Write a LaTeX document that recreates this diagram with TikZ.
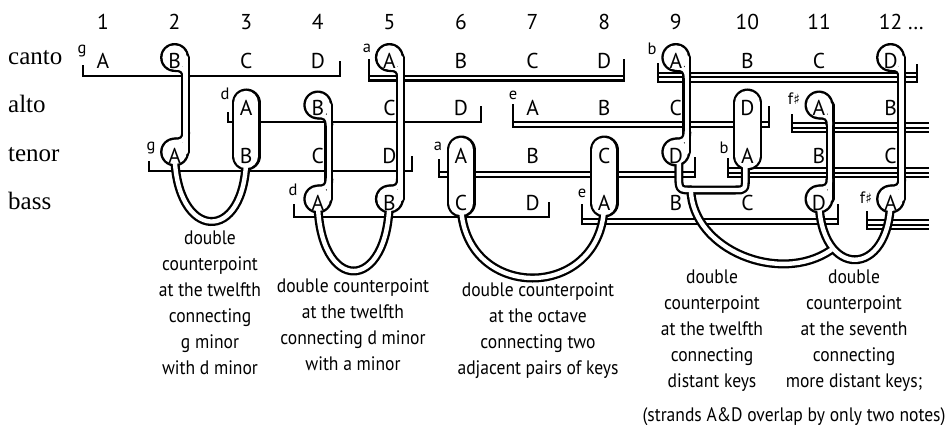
\documentclass[tikz,border=0pt]{standalone}
\usepackage{fontspec}
\setmainfont{Liberation Serif}
\newfontfamily\notefont{PT Sans}
\newfontfamily\capfont[FakeStretch=0.9]{PT Sans}
\newfontfamily\symfont{DejaVu Sans}
\usetikzlibrary{calc}

% one bracket of a voice: x from, x to, first line y, lines, left tick top, right tick top
\newcommand{\keystrand}[6]{%
  \foreach \i in {1,...,#4}
    \draw[staff] (#1,{#3+4.6*(\i-1)}) -- (#2,{#3+4.6*(\i-1)});
  \draw[staff] (#1,#5) -- (#1,{#3+4.6*(#4-1)});
  \ifx&#6&\else\draw[staff] (#2,#6) -- (#2,{#3+4.6*(#4-1)});\fi}

% one pass of the tubes: colour, tube width, bulb radius, oval width
\newcommand{\tubepass}[4]{%
  \begin{scope}[draw=#1, fill=#1, line width=#2, line cap=round, line join=round]
    \foreach \p in {c2,t2,a4,b4,c5,b5,c9,t9,a11,b11,c12,b12}
      \fill ($(\p)+(0,-11)$) circle (#3);
    % ovals
    \foreach \ptop/\pbot in {a3/t3,t6/b6,t8/b8,a10/t10}
      \draw[line width=#4] ($(\ptop)+(0,-13)$) -- ($(\pbot)+(0,-7)$);
    % necks
    \foreach \ptop/\pbot in {c2/t2,a4/b4,c5/b5,c9/t9,a11/b11,c12/b12}{
      \draw ($(\ptop)+(11,-11)$) -- ($(\pbot)+(11,-11)$);
      \draw ($(\ptop)+(0,-1)$) .. controls +(8,0) and +(0,-8) .. ($(\ptop)+(11,9)$);
      \draw ($(\pbot)+(0,-21)$) .. controls +(8,0) and +(0,8) .. ($(\pbot)+(11,-31)$);
    }
    % loops below
    \draw ($(t2)+(0,-11)$) .. controls +(0,90) and +(0,90) .. ($(t3)+(0,-7)$);
    \draw ($(b4)+(0,-11)$) .. controls +(0,96) and +(0,96) .. ($(b5)+(0,-11)$);
    \draw ($(b6)+(0,-7)$) .. controls +(0,100) and +(0,100) .. ($(b8)+(0,-7)$);
    \draw ($(t9)+(3,-11)$) -- ($(t9)+(3,10)$) .. controls ($(t9)+(3,27)$) .. ($(t9)+(16,27)$)
      -- ($(t10)+(-12,27)$) .. controls ($(t10)+(-2,27)$) .. ($(t10)+(-2,12)$) -- ($(t10)+(-2,-7)$);
    \draw ($(t9)+(15,27)$) .. controls ($(t9)+(17,87)$) and ($(b11)+(-39,75)$) .. ($(b11)+(12,40)$);
    \draw ($(b11)+(0,-11)$) .. controls +(0,81) and +(0,81) .. ($(b12)+(0,-11)$);
  \end{scope}}

\begin{document}
\begin{tikzpicture}[x=1pt, y=-1pt,
    note/.style={font=\notefont\fontsize{21.5}{21.5}\selectfont, inner sep=0, anchor=base},
    num/.style={font=\notefont\fontsize{21.5}{21.5}\selectfont, inner sep=0, anchor=base},
    key/.style={font=\notefont\fontsize{16.5}{16.5}\selectfont, inner sep=0, anchor=base},
    voice/.style={font=\fontsize{25}{25}\selectfont, inner sep=0, anchor=base west},
    caption/.style={font=\capfont\fontsize{19.5}{26}\selectfont, inner sep=0, anchor=north, align=center},
    staff/.style={line width=2.2pt, line cap=rect}]
  \useasboundingbox (0,0) rectangle (952,425);

  % note places
  \foreach \k in {1,...,12}{
    \coordinate (c\k) at ({103+71.6*(\k-1)},68.5);
    \coordinate (a\k) at ({103+71.6*(\k-1)},116);
    \coordinate (t\k) at ({103+71.6*(\k-1)},163);
    \coordinate (b\k) at ({103+71.6*(\k-1)},210);
  }

  % voices
  \node[voice] (canto) at (8,65) {canto};
  \node[voice] (alto) at (8,113) {alto};
  \node[voice] (tenor) at (8,161.5) {tenor};
  \node[voice] (bass) at (8,209) {bass};

  % bar numbers
  \foreach \k in {1,...,12}
    \node[num] (num\k) at ($(c\k)+(0,-38.5)$) {\k};
  \node[num, anchor=base west] (dots) at ($(num12.base east)+(5,0)$) {…};

  % brackets
  \keystrand{83}{340}{76}{1}{66}{62}
  \keystrand{369}{624}{76}{2}{60}{60}
  \keystrand{658}{917}{72.7}{3}{64}{65}
  \keystrand{228}{481}{122}{1}{113}{107}
  \keystrand{513}{769}{122}{2}{105}{107}
  \keystrand{792}{928}{123}{3}{115}{}
  \keystrand{149}{411.7}{171}{1}{162}{157}
  \keystrand{439}{695}{172}{2}{160}{158}
  \keystrand{728}{928}{168}{3}{159}{}
  \keystrand{294}{549}{217}{1}{205}{203}
  \keystrand{582}{838}{219}{2}{205}{205}
  \keystrand{867}{928}{220}{3}{212}{}

  % keys
  \node[key] (kc1) at (82,54) {g};
  \node[key] (kc2) at (367,53) {a};
  \node[key] (kc3) at (652,55) {b};
  \node[key] (ka1) at (225,100) {d};
  \node[key] (ka2) at (513,100) {e};
  \node[key] (ka3) at (794,105) {f{\symfont\fontsize{14}{14}\selectfont ♯}};
  \node[key] (kt1) at (151,150) {g};
  \node[key] (kt2) at (438,150) {a};
  \node[key] (kt3) at (724,153) {b};
  \node[key] (kb1) at (293,195) {d};
  \node[key] (kb2) at (582,197) {e};
  \node[key] (kb3) at (866,203) {f{\symfont\fontsize{14}{14}\selectfont ♯}};

  % tubes: outline, then inside
  \tubepass{black}{9pt}{14.5pt}{29pt}
  \tubepass{white}{4.4pt}{12.2pt}{24.4pt}

  % notes
  \foreach \k/\n in {1/A,2/B,3/C,4/D,5/A,6/B,7/C,8/D,9/A,10/B,11/C,12/D}
    \node[note] (nc\k) at (c\k) {\n};
  \foreach \k/\n in {3/A,4/B,5/C,6/D,7/A,8/B,9/C,10/D,11/A,12/B}
    \node[note] (na\k) at (a\k) {\n};
  \foreach \k/\n in {2/A,3/B,4/C,5/D,6/A,7/B,8/C,9/D,10/A,11/B,12/C}
    \node[note] (nt\k) at (t\k) {\n};
  \foreach \k/\n in {4/A,5/B,6/C,7/D,8/A,9/B,10/C,11/D,12/A}
    \node[note] (nb\k) at (b\k) {\n};

  % captions
  \node[caption] (cap1) at (210,231) {double\\counterpoint\\at the twelfth\\connecting\\g minor\\with d minor};
  \node[caption] (cap2) at (353,278) {double counterpoint\\at the twelfth\\connecting d minor\\with a minor};
  \node[caption] (cap3) at (538,282) {double counterpoint\\at the octave\\connecting two\\adjacent pairs of keys};
  \node[caption] (cap4) at (712,270) {double\\counterpoint\\at the twelfth\\connecting\\distant keys};
  \node[caption] (cap5) at (854,270) {double\\counterpoint\\at the seventh\\connecting\\more distant keys;};
  \node[caption] (cap6) at (794,407) {(strands A\&D overlap by only two notes)};
\end{tikzpicture}
\end{document}
